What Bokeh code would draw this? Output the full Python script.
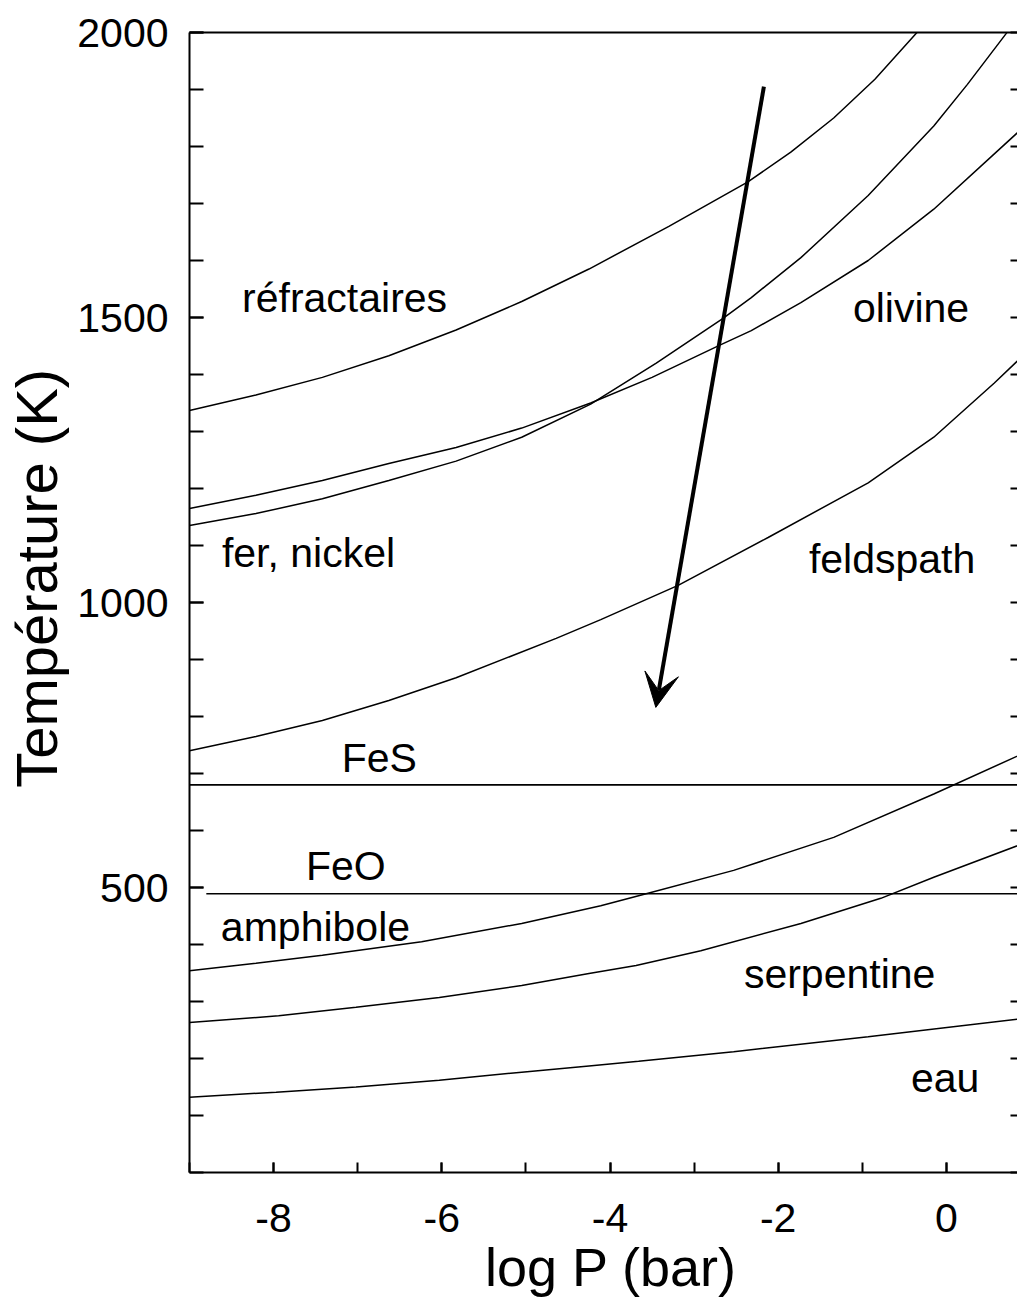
from bokeh.plotting import figure
from bokeh.models import (Range1d, FixedTicker, LinearAxis, Arrow, VeeHead,
                          ColumnDataSource)
from bokeh.core.properties import value
from bokeh.embed import file_html
from bokeh.resources import INLINE

FONT = "Liberation Sans"

# ---------------- data (log P in bar, T in K) ----------------
refr_logp = [-9.0, -8.21, -7.42, -6.63, -5.83, -5.05, -4.25, -3.3, -2.36, -1.85, -1.34, -0.85, -0.35, -0.2]
refr_T    = [1337, 1364, 1395, 1433, 1478, 1528, 1585, 1660, 1738, 1790, 1850, 1918, 2000, 2030]

metal_logp = [-9.0, -8.21, -7.42, -6.63, -5.83, -5.05, -4.23, -3.5, -2.70, -2.32, -1.73, -0.93, -0.15, 0.91]
metal_T    = [1165, 1188, 1214, 1244, 1272, 1306, 1350, 1395, 1451, 1477, 1526, 1600, 1690, 1833]

silic_logp = [-9.0, -8.21, -7.42, -6.63, -5.83, -5.05, -4.23, -3.45, -2.66, -2.32, -1.73, -0.93, -0.15, 0.25, 0.71, 0.85]
silic_T    = [1135, 1156, 1182, 1214, 1248, 1290, 1348, 1420, 1498, 1535, 1605, 1714, 1836, 1909, 1998, 2030]

feld_logp = [-9.0, -8.21, -7.42, -6.63, -5.83, -4.64, -4.11, -3.19, -2.12, -0.93, -0.15, 0.57, 0.91]
feld_T    = [740, 765, 793, 828, 868, 937, 970, 1030, 1114, 1210, 1290, 1385, 1433]

fes_logp = [-9.0, 0.91]
fes_T    = [680, 680]

feo_logp = [-8.8, 0.91]
feo_T    = [489, 489]

amph_logp = [-9.0, -8.21, -7.42, -6.24, -5.05, -4.11, -3.57, -2.53, -1.34, -0.15, 0.91]
amph_T    = [354, 367, 381, 405, 437, 468, 489, 530, 588, 664, 735]

serp_logp = [-9.0, -7.94, -7.02, -6.03, -5.05, -4.25, -3.69, -2.92, -1.73, -0.78, -0.15, 0.91]
serp_T    = [263, 275, 290, 307, 328, 349, 363, 389, 437, 481, 518, 577]

eau_logp = [-9.0, -7.97, -7.02, -6.03, -5.05, -4.25, -3.66, -2.53, -0.93, 0.91]
eau_T    = [132, 141, 150, 162, 176, 187, 195, 212, 238, 270]

arrow_logp = [-2.17, -3.455]
arrow_T    = [1905, 816]

label_text = ["réfractaires", "olivine", "fer, nickel", "feldspath", "FeS", "FeO",
              "amphibole", "serpentine", "eau"]
label_logp = [-8.375, -1.112, -8.615, -1.635, -7.19, -7.616, -8.627, -2.408, -0.422]
label_T    = [1535, 1517, 1086, 1077, 728, 538, 430, 349, 166]

x_major = [-8, -6, -4, -2, 0]
x_major_text = {-8: "-8", -6: "-6", -4: "-4", -2: "-2", 0: "0"}
x_minor = [-9, -8, -7, -6, -5, -4, -3, -2, -1, 0, 1]
y_major = [500, 1000, 1500, 2000]
y_minor = [0, 100, 200, 300, 400, 500, 600, 700, 800, 900, 1000,
           1100, 1200, 1300, 1400, 1500, 1600, 1700, 1800, 1900, 2000]

x_title = "log P (bar)"
y_title = "Température (K)"

# ---------------- figure ----------------
PX_PER_UNIT = 84.1
FRAME_W = 828
x_end = -9 + FRAME_W / PX_PER_UNIT

p = figure(frame_width=FRAME_W, frame_height=1140,
           x_range=Range1d(-9, x_end), y_range=Range1d(0, 2000),
           output_backend="svg", toolbar_location=None,
           min_border_left=189, min_border_top=32, min_border_bottom=0,
           min_border_right=0)
p.outline_line_color = None
p.xgrid.visible = False
p.ygrid.visible = False
p.background_fill_color = "white"
p.border_fill_color = "white"

xa = p.xaxis[0]
xa.ticker = FixedTicker(ticks=x_major, minor_ticks=x_minor)
xa.major_label_overrides = x_major_text
xa.axis_label = "\u00a0" + x_title
xa.axis_label_standoff = 2
xa.axis_label_text_font_size = "54px"

ya = p.yaxis[0]
ya.ticker = FixedTicker(ticks=y_major, minor_ticks=y_minor)
ya.axis_label = "\u00a0\u00a0\u00a0" + y_title
ya.axis_label_standoff = 5
ya.axis_label_text_font_size = "58px"

for ax, tlen, stand in ((xa, 10, 31), (ya, 14, 21)):
    ax.axis_line_width = 2
    ax.axis_line_color = "black"
    ax.major_tick_line_width = 2
    ax.minor_tick_line_width = 2
    ax.major_tick_line_color = "black"
    ax.minor_tick_line_color = "black"
    ax.major_tick_in = tlen
    ax.minor_tick_in = tlen
    ax.major_tick_out = 0
    ax.minor_tick_out = 0
    ax.major_label_standoff = stand
    ax.major_label_text_font = FONT
    ax.major_label_text_font_size = "41px"
    ax.major_label_text_color = "black"
    ax.axis_label_text_font = FONT
    ax.axis_label_text_font_style = "normal"
    ax.axis_label_text_color = "black"

top_ax = LinearAxis(ticker=FixedTicker(ticks=[], minor_ticks=[]), axis_line_width=2,
                    axis_line_color="black",
                    major_tick_in=0, major_tick_out=0, minor_tick_in=0, minor_tick_out=0,
                    major_label_standoff=0)
p.add_layout(top_ax, "above")

right_ax = LinearAxis(ticker=FixedTicker(ticks=[], minor_ticks=y_minor), axis_line_color=None,
                      major_tick_in=0, major_tick_out=0, minor_tick_in=7, minor_tick_out=0,
                      minor_tick_line_width=2, minor_tick_line_color="black",
                      major_label_standoff=0)
p.add_layout(right_ax, "right")

LW = 1.5
for lx, ly in ((refr_logp, refr_T), (metal_logp, metal_T), (silic_logp, silic_T),
               (feld_logp, feld_T), (amph_logp, amph_T), (serp_logp, serp_T),
               (eau_logp, eau_T)):
    p.line(lx, ly, line_width=LW, line_color="black")
p.line(fes_logp, fes_T, line_width=1.7, line_color="black")
p.line(feo_logp, feo_T, line_width=1.7, line_color="black")

p.add_layout(Arrow(end=VeeHead(size=34, fill_color="black", line_color="black", line_width=1),
                   x_start=arrow_logp[0], y_start=arrow_T[0],
                   x_end=arrow_logp[1], y_end=arrow_T[1],
                   line_width=4, line_color="black"))

src = ColumnDataSource(dict(x=label_logp, y=label_T, text=label_text))
p.text(x="x", y="y", text="text", source=src, text_font=value(FONT),
       text_font_size=value("41px"), text_align="left", text_baseline="alphabetic",
       text_color="black")

open("out.html", "w").write(file_html(p, INLINE))
